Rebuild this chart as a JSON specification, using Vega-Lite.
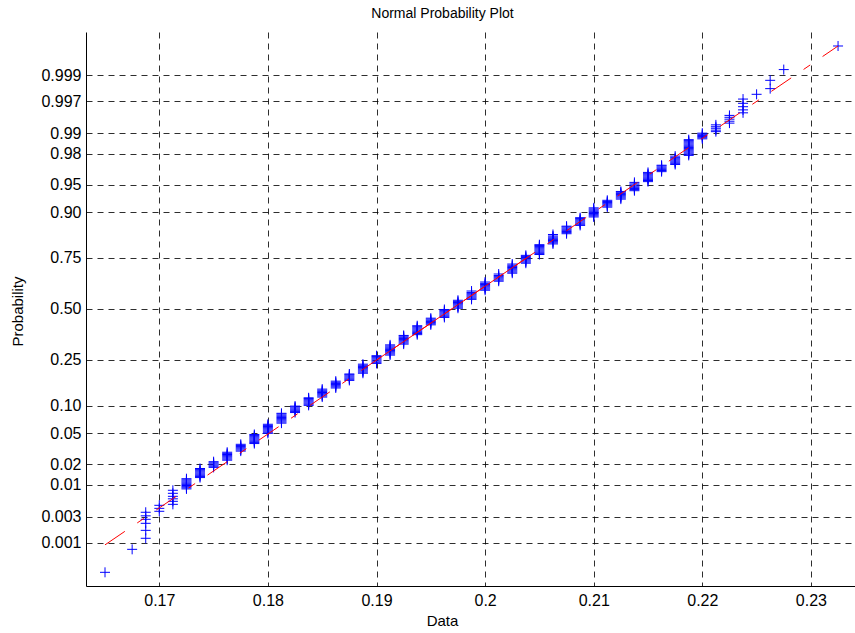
{
"$schema": "https://vega.github.io/schema/vega-lite/v6.json",
"width": 769, "height": 554,
"autosize": {"type": "none"},
"padding": {"left": 86, "top": 32, "right": 0, "bottom": 47},
"background": "white",
"title": {"text": "Normal Probability Plot", "font": "Liberation Sans", "fontSize": 14, "fontWeight": "normal", "color": "black", "anchor": "middle", "dx": -28, "offset": 11},
"config": {
  "view": {"stroke": null},
  "axis": {"labelFont": "Liberation Sans", "labelFontSize": 16, "labelColor": "black", "titleFont": "Liberation Sans", "titleFontSize": 15, "titleFontWeight": "normal", "titleColor": "black", "domainColor": "black", "domainWidth": 1, "ticks": false, "grid": true, "gridColor": "#000000", "gridOpacity": 0.82, "gridDash": [6, 5], "gridWidth": 1, "labelOverlap": false, "labelFlush": false, "labelBound": false}
},
"datasets": {
"pts": [
{"x":0.165,"z":-3.483},
{"x":0.1675,"z":-3.179},
{"x":0.16875,"z":-3.033},{"x":0.16875,"z":-2.928},{"x":0.16875,"z":-2.835},{"x":0.16875,"z":-2.782},{"x":0.16875,"z":-2.736},{"x":0.16875,"z":-2.689},
{"x":0.17,"z":-2.676},{"x":0.17,"z":-2.637},{"x":0.17,"z":-2.597},
{"x":0.17125,"z":-2.584},{"x":0.17125,"z":-2.544},{"x":0.17125,"z":-2.511},{"x":0.17125,"z":-2.478},{"x":0.17125,"z":-2.438},{"x":0.17125,"z":-2.398},
{"x":0.1725,"z":-2.38},{"x":0.1725,"z":-2.365},{"x":0.1725,"z":-2.35},{"x":0.1725,"z":-2.335},{"x":0.1725,"z":-2.32},{"x":0.1725,"z":-2.305},{"x":0.1725,"z":-2.29},{"x":0.1725,"z":-2.275},{"x":0.1725,"z":-2.26},{"x":0.1725,"z":-2.245},
{"x":0.17375,"z":-2.23},{"x":0.17375,"z":-2.215},{"x":0.17375,"z":-2.2},{"x":0.17375,"z":-2.185},{"x":0.17375,"z":-2.17},{"x":0.17375,"z":-2.155},{"x":0.17375,"z":-2.14},{"x":0.17375,"z":-2.125},{"x":0.17375,"z":-2.11},
{"x":0.175,"z":-2.095},{"x":0.175,"z":-2.08},{"x":0.175,"z":-2.065},{"x":0.175,"z":-2.05},{"x":0.175,"z":-2.035},{"x":0.175,"z":-2.02},
{"x":0.17625,"z":-2.0},{"x":0.17625,"z":-1.985},{"x":0.17625,"z":-1.97},{"x":0.17625,"z":-1.955},{"x":0.17625,"z":-1.94},{"x":0.17625,"z":-1.925},{"x":0.17625,"z":-1.91},{"x":0.17625,"z":-1.895},
{"x":0.1775,"z":-1.88},{"x":0.1775,"z":-1.865},{"x":0.1775,"z":-1.85},{"x":0.1775,"z":-1.835},{"x":0.1775,"z":-1.82},{"x":0.1775,"z":-1.805},{"x":0.1775,"z":-1.79},
{"x":0.17875,"z":-1.78},{"x":0.17875,"z":-1.765},{"x":0.17875,"z":-1.75},{"x":0.17875,"z":-1.735},{"x":0.17875,"z":-1.72},{"x":0.17875,"z":-1.705},{"x":0.17875,"z":-1.69},{"x":0.17875,"z":-1.675},{"x":0.17875,"z":-1.66},
{"x":0.18,"z":-1.645},{"x":0.18,"z":-1.63},{"x":0.18,"z":-1.615},{"x":0.18,"z":-1.6},{"x":0.18,"z":-1.585},{"x":0.18,"z":-1.57},{"x":0.18,"z":-1.555},{"x":0.18,"z":-1.54},{"x":0.18,"z":-1.525},
{"x":0.18125,"z":-1.51},{"x":0.18125,"z":-1.495},{"x":0.18125,"z":-1.48},{"x":0.18125,"z":-1.465},{"x":0.18125,"z":-1.45},{"x":0.18125,"z":-1.435},{"x":0.18125,"z":-1.42},{"x":0.18125,"z":-1.405},{"x":0.18125,"z":-1.39},{"x":0.18125,"z":-1.38},
{"x":0.1825,"z":-1.37},{"x":0.1825,"z":-1.355},{"x":0.1825,"z":-1.34},{"x":0.1825,"z":-1.325},{"x":0.1825,"z":-1.31},{"x":0.1825,"z":-1.295},{"x":0.1825,"z":-1.285},
{"x":0.18375,"z":-1.275},{"x":0.18375,"z":-1.26},{"x":0.18375,"z":-1.245},{"x":0.18375,"z":-1.23},{"x":0.18375,"z":-1.215},{"x":0.18375,"z":-1.2},{"x":0.18375,"z":-1.185},{"x":0.18375,"z":-1.175},
{"x":0.185,"z":-1.165},{"x":0.185,"z":-1.15},{"x":0.185,"z":-1.135},{"x":0.185,"z":-1.12},{"x":0.185,"z":-1.105},{"x":0.185,"z":-1.09},{"x":0.185,"z":-1.075},{"x":0.185,"z":-1.06},
{"x":0.18625,"z":-1.045},{"x":0.18625,"z":-1.03},{"x":0.18625,"z":-1.015},{"x":0.18625,"z":-1.0},{"x":0.18625,"z":-0.985},{"x":0.18625,"z":-0.97},{"x":0.18625,"z":-0.955},
{"x":0.1875,"z":-0.945},{"x":0.1875,"z":-0.93},{"x":0.1875,"z":-0.915},{"x":0.1875,"z":-0.9},{"x":0.1875,"z":-0.885},{"x":0.1875,"z":-0.87},{"x":0.1875,"z":-0.86},
{"x":0.18875,"z":-0.85},{"x":0.18875,"z":-0.835},{"x":0.18875,"z":-0.82},{"x":0.18875,"z":-0.805},{"x":0.18875,"z":-0.79},{"x":0.18875,"z":-0.775},{"x":0.18875,"z":-0.76},{"x":0.18875,"z":-0.745},{"x":0.18875,"z":-0.73},
{"x":0.19,"z":-0.72},{"x":0.19,"z":-0.705},{"x":0.19,"z":-0.69},{"x":0.19,"z":-0.675},{"x":0.19,"z":-0.66},{"x":0.19,"z":-0.645},{"x":0.19,"z":-0.63},{"x":0.19,"z":-0.618},
{"x":0.19125,"z":-0.61},{"x":0.19125,"z":-0.595},{"x":0.19125,"z":-0.58},{"x":0.19125,"z":-0.565},{"x":0.19125,"z":-0.55},{"x":0.19125,"z":-0.535},{"x":0.19125,"z":-0.52},{"x":0.19125,"z":-0.505},{"x":0.19125,"z":-0.49},{"x":0.19125,"z":-0.475},
{"x":0.1925,"z":-0.465},{"x":0.1925,"z":-0.45},{"x":0.1925,"z":-0.435},{"x":0.1925,"z":-0.42},{"x":0.1925,"z":-0.405},{"x":0.1925,"z":-0.39},{"x":0.1925,"z":-0.375},{"x":0.1925,"z":-0.36},{"x":0.1925,"z":-0.35},
{"x":0.19375,"z":-0.34},{"x":0.19375,"z":-0.325},{"x":0.19375,"z":-0.31},{"x":0.19375,"z":-0.295},{"x":0.19375,"z":-0.28},{"x":0.19375,"z":-0.265},{"x":0.19375,"z":-0.25},{"x":0.19375,"z":-0.235},{"x":0.19375,"z":-0.222},
{"x":0.195,"z":-0.21},{"x":0.195,"z":-0.195},{"x":0.195,"z":-0.18},{"x":0.195,"z":-0.165},{"x":0.195,"z":-0.15},{"x":0.195,"z":-0.135},{"x":0.195,"z":-0.122},
{"x":0.19625,"z":-0.112},{"x":0.19625,"z":-0.097},{"x":0.19625,"z":-0.082},{"x":0.19625,"z":-0.067},{"x":0.19625,"z":-0.052},{"x":0.19625,"z":-0.037},{"x":0.19625,"z":-0.022},{"x":0.19625,"z":-0.007},
{"x":0.1975,"z":0.01},{"x":0.1975,"z":0.025},{"x":0.1975,"z":0.04},{"x":0.1975,"z":0.055},{"x":0.1975,"z":0.07},{"x":0.1975,"z":0.085},{"x":0.1975,"z":0.1},{"x":0.1975,"z":0.115},
{"x":0.19875,"z":0.127},{"x":0.19875,"z":0.142},{"x":0.19875,"z":0.157},{"x":0.19875,"z":0.172},{"x":0.19875,"z":0.187},{"x":0.19875,"z":0.202},{"x":0.19875,"z":0.217},{"x":0.19875,"z":0.237},
{"x":0.2,"z":0.248},{"x":0.2,"z":0.263},{"x":0.2,"z":0.278},{"x":0.2,"z":0.293},{"x":0.2,"z":0.308},{"x":0.2,"z":0.323},{"x":0.2,"z":0.338},{"x":0.2,"z":0.356},
{"x":0.20125,"z":0.367},{"x":0.20125,"z":0.382},{"x":0.20125,"z":0.397},{"x":0.20125,"z":0.412},{"x":0.20125,"z":0.427},{"x":0.20125,"z":0.442},{"x":0.20125,"z":0.462},
{"x":0.2025,"z":0.473},{"x":0.2025,"z":0.488},{"x":0.2025,"z":0.503},{"x":0.2025,"z":0.518},{"x":0.2025,"z":0.533},{"x":0.2025,"z":0.548},{"x":0.2025,"z":0.563},{"x":0.2025,"z":0.578},{"x":0.2025,"z":0.594},
{"x":0.20375,"z":0.605},{"x":0.20375,"z":0.62},{"x":0.20375,"z":0.635},{"x":0.20375,"z":0.65},{"x":0.20375,"z":0.665},{"x":0.20375,"z":0.68},{"x":0.20375,"z":0.695},{"x":0.20375,"z":0.709},
{"x":0.205,"z":0.72},{"x":0.205,"z":0.735},{"x":0.205,"z":0.75},{"x":0.205,"z":0.765},{"x":0.205,"z":0.78},{"x":0.205,"z":0.795},{"x":0.205,"z":0.81},{"x":0.205,"z":0.825},{"x":0.205,"z":0.84},{"x":0.205,"z":0.85},
{"x":0.20625,"z":0.86},{"x":0.20625,"z":0.875},{"x":0.20625,"z":0.89},{"x":0.20625,"z":0.905},{"x":0.20625,"z":0.92},{"x":0.20625,"z":0.935},{"x":0.20625,"z":0.95},{"x":0.20625,"z":0.965},{"x":0.20625,"z":0.985},
{"x":0.2075,"z":0.995},{"x":0.2075,"z":1.01},{"x":0.2075,"z":1.025},{"x":0.2075,"z":1.04},{"x":0.2075,"z":1.055},{"x":0.2075,"z":1.07},{"x":0.2075,"z":1.085},{"x":0.2075,"z":1.095},
{"x":0.20875,"z":1.105},{"x":0.20875,"z":1.12},{"x":0.20875,"z":1.135},{"x":0.20875,"z":1.15},{"x":0.20875,"z":1.165},{"x":0.20875,"z":1.18},{"x":0.20875,"z":1.195},{"x":0.20875,"z":1.207},
{"x":0.21,"z":1.217},{"x":0.21,"z":1.232},{"x":0.21,"z":1.247},{"x":0.21,"z":1.262},{"x":0.21,"z":1.277},{"x":0.21,"z":1.292},{"x":0.21,"z":1.307},{"x":0.21,"z":1.322},{"x":0.21,"z":1.337},
{"x":0.21125,"z":1.347},{"x":0.21125,"z":1.362},{"x":0.21125,"z":1.377},{"x":0.21125,"z":1.392},{"x":0.21125,"z":1.407},{"x":0.21125,"z":1.422},{"x":0.21125,"z":1.437},
{"x":0.2125,"z":1.453},{"x":0.2125,"z":1.468},{"x":0.2125,"z":1.483},{"x":0.2125,"z":1.498},{"x":0.2125,"z":1.513},{"x":0.2125,"z":1.528},{"x":0.2125,"z":1.543},{"x":0.2125,"z":1.554},
{"x":0.21375,"z":1.564},{"x":0.21375,"z":1.579},{"x":0.21375,"z":1.594},{"x":0.21375,"z":1.609},{"x":0.21375,"z":1.624},{"x":0.21375,"z":1.639},{"x":0.21375,"z":1.654},{"x":0.21375,"z":1.674},
{"x":0.215,"z":1.684},{"x":0.215,"z":1.699},{"x":0.215,"z":1.714},{"x":0.215,"z":1.729},{"x":0.215,"z":1.744},{"x":0.215,"z":1.759},{"x":0.215,"z":1.774},{"x":0.215,"z":1.789},{"x":0.215,"z":1.806},
{"x":0.21625,"z":1.816},{"x":0.21625,"z":1.831},{"x":0.21625,"z":1.846},{"x":0.21625,"z":1.861},{"x":0.21625,"z":1.876},{"x":0.21625,"z":1.891},{"x":0.21625,"z":1.901},
{"x":0.2175,"z":1.911},{"x":0.2175,"z":1.926},{"x":0.2175,"z":1.941},{"x":0.2175,"z":1.956},{"x":0.2175,"z":1.971},{"x":0.2175,"z":1.986},{"x":0.2175,"z":2.001},{"x":0.2175,"z":2.021},
{"x":0.21875,"z":2.031},{"x":0.21875,"z":2.046},{"x":0.21875,"z":2.061},{"x":0.21875,"z":2.076},{"x":0.21875,"z":2.091},{"x":0.21875,"z":2.106},{"x":0.21875,"z":2.121},{"x":0.21875,"z":2.136},{"x":0.21875,"z":2.151},{"x":0.21875,"z":2.166},{"x":0.21875,"z":2.181},{"x":0.21875,"z":2.196},{"x":0.21875,"z":2.211},{"x":0.21875,"z":2.226},{"x":0.21875,"z":2.239},
{"x":0.22,"z":2.25},{"x":0.22,"z":2.265},{"x":0.22,"z":2.28},{"x":0.22,"z":2.295},{"x":0.22,"z":2.31},{"x":0.22,"z":2.325},
{"x":0.22125,"z":2.345},{"x":0.22125,"z":2.365},{"x":0.22125,"z":2.39},{"x":0.22125,"z":2.41},{"x":0.22125,"z":2.435},
{"x":0.2225,"z":2.458},{"x":0.2225,"z":2.483},{"x":0.2225,"z":2.51},{"x":0.2225,"z":2.535},{"x":0.2225,"z":2.56},
{"x":0.22375,"z":2.594},{"x":0.22375,"z":2.633},{"x":0.22375,"z":2.675},{"x":0.22375,"z":2.72},{"x":0.22375,"z":2.776},
{"x":0.225,"z":2.839},
{"x":0.22625,"z":2.914},{"x":0.22625,"z":3.024},
{"x":0.2275,"z":3.166},
{"x":0.2325,"z":3.478}
],
"fit": [{"x":0.165,"z":-3.12},{"x":0.2325,"z":3.478}],
"mid": [{"x":0.19002,"z":-0.6745},{"x":0.20382,"z":0.6745}]
},
"encoding": {
  "x": {"field": "x", "type": "quantitative",
    "scale": {"domain": [0.16325, 0.23406], "nice": false, "zero": false},
    "axis": {"values": [0.17, 0.18, 0.19, 0.2, 0.21, 0.22, 0.23], "format": "~g", "title": "Data", "labelPadding": 6, "titleX": 356, "titleY": 39, "titleBaseline": "alphabetic", "titleAnchor": "middle", "titleAlign": "center"}},
  "y": {"field": "z", "type": "quantitative",
    "scale": {"domain": [-3.664, 3.663], "nice": false, "zero": false},
    "axis": {"values": [-3.0902, -2.7478, -2.3263, -2.0537, -1.6449, -1.2816, -0.6745, 0, 0.6745, 1.2816, 1.6449, 2.0537, 2.3263, 2.7478, 3.0902],
      "labelExpr": "datum.value < -3 ? '0.001' : datum.value < -2.5 ? '0.003' : datum.value < -2.2 ? '0.01' : datum.value < -1.9 ? '0.02' : datum.value < -1.5 ? '0.05' : datum.value < -1 ? '0.10' : datum.value < -0.5 ? '0.25' : datum.value < 0.5 ? '0.50' : datum.value < 1 ? '0.75' : datum.value < 1.5 ? '0.90' : datum.value < 1.9 ? '0.95' : datum.value < 2.2 ? '0.98' : datum.value < 2.5 ? '0.99' : datum.value < 3 ? '0.997' : '0.999'",
      "title": "Probability", "labelPadding": 5, "titleX": -64, "titleY": 279, "titleAngle": -90, "titleBaseline": "alphabetic", "titleAlign": "center"}}
},
"layer": [
  {"data": {"name": "pts"}, "mark": {"type": "point", "shape": "M-1,0H1M0,-1V1", "size": 100, "filled": false, "stroke": "#0000ff", "strokeWidth": 1, "opacity": 1}},
  {"data": {"name": "fit"}, "mark": {"type": "line", "color": "#ff0000", "strokeWidth": 1, "strokeDash": [24, 15, 8, 15]}},
  {"data": {"name": "mid"}, "mark": {"type": "line", "color": "#ff0000", "strokeWidth": 1}}
]
}
